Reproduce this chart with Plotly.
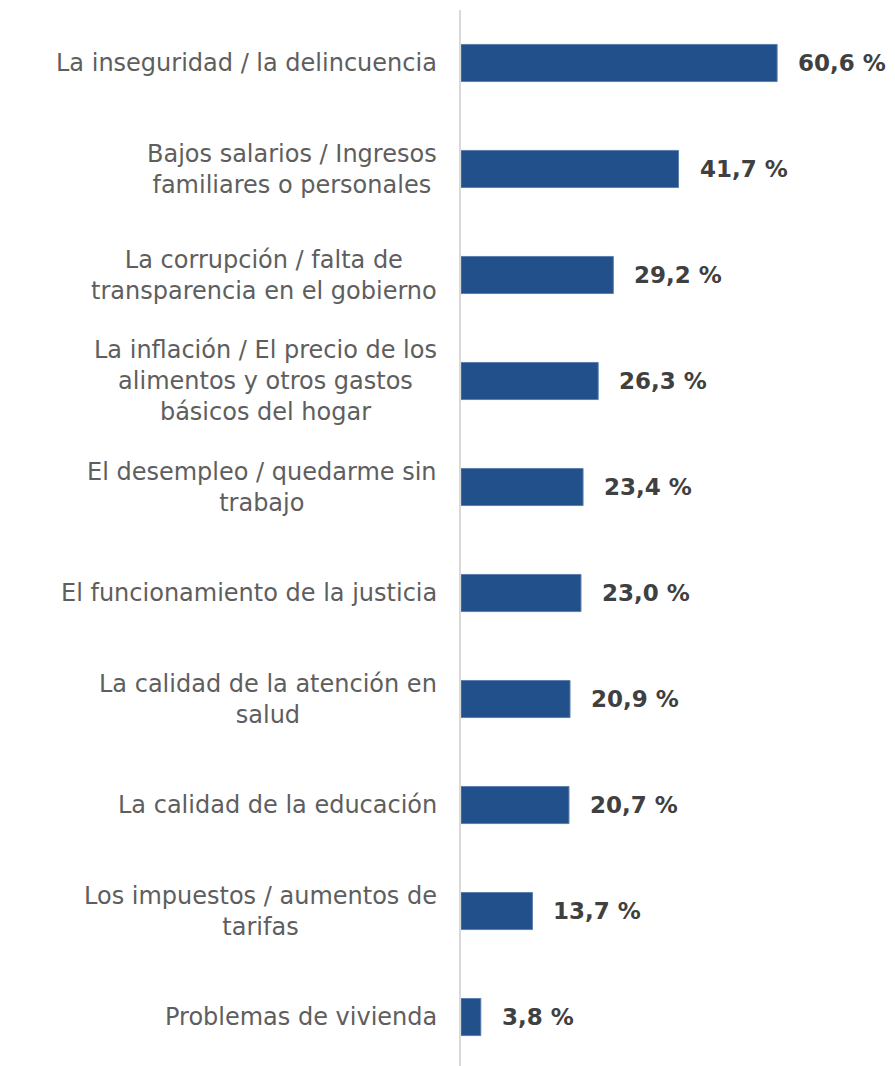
import plotly.graph_objects as go

categories = [
    "La inseguridad / la delincuencia",
    "Bajos salarios / Ingresos<br>familiares o personales",
    "La corrupción / falta de<br>transparencia en el gobierno",
    "La inflación / El precio de los<br>alimentos y otros gastos<br>básicos del hogar",
    "El desempleo / quedarme sin<br>trabajo",
    "El funcionamiento de la justicia",
    "La calidad de la atención en<br>salud",
    "La calidad de la educación",
    "Los impuestos / aumentos de<br>tarifas",
    "Problemas de vivienda",
]
values = [60.6, 41.7, 29.2, 26.3, 23.4, 23.0, 20.9, 20.7, 13.7, 3.8]
value_labels = ["60,6 %", "41,7 %", "29,2 %", "26,3 %", "23,4 %", "23,0 %", "20,9 %", "20,7 %", "13,7 %", "3,8 %"]

positions = list(range(len(categories)))

fig = go.Figure()
fig.add_trace(go.Bar(
    x=values,
    y=positions,
    orientation="h",
    marker=dict(color="#22508A", line=dict(color="#5b7fae", width=1)),
    width=0.35,
    hoverinfo="skip",
))

annotations = []
for p, cat in zip(positions, categories):
    annotations.append(dict(
        x=0, xref="paper", xshift=-22, y=p, yref="y",
        text=cat, showarrow=False, xanchor="right", yanchor="middle",
        align="center",
        font=dict(family="DejaVu Sans", size=24, color="#5e5e5e"),
    ))
for p, v, lab in zip(positions, values, value_labels):
    annotations.append(dict(
        x=v, xref="x", xshift=19, y=p, yref="y",
        text=lab, showarrow=False, xanchor="left", yanchor="middle",
        font=dict(family="DejaVu Sans", size=23, color="#404040", weight="bold"),
    ))

fig.update_layout(
    width=887, height=1058,
    margin=dict(l=453, r=0, t=2, b=0),
    plot_bgcolor="white", paper_bgcolor="white",
    showlegend=False,
    xaxis=dict(range=[0, 83.2], visible=False, fixedrange=True),
    yaxis=dict(range=[9.462, -0.5], showticklabels=False, showgrid=False,
               zeroline=False, showline=True, linecolor="#d9d9d9", linewidth=2,
               ticks=""),
    annotations=annotations,
)

fig.write_html("out.html")
